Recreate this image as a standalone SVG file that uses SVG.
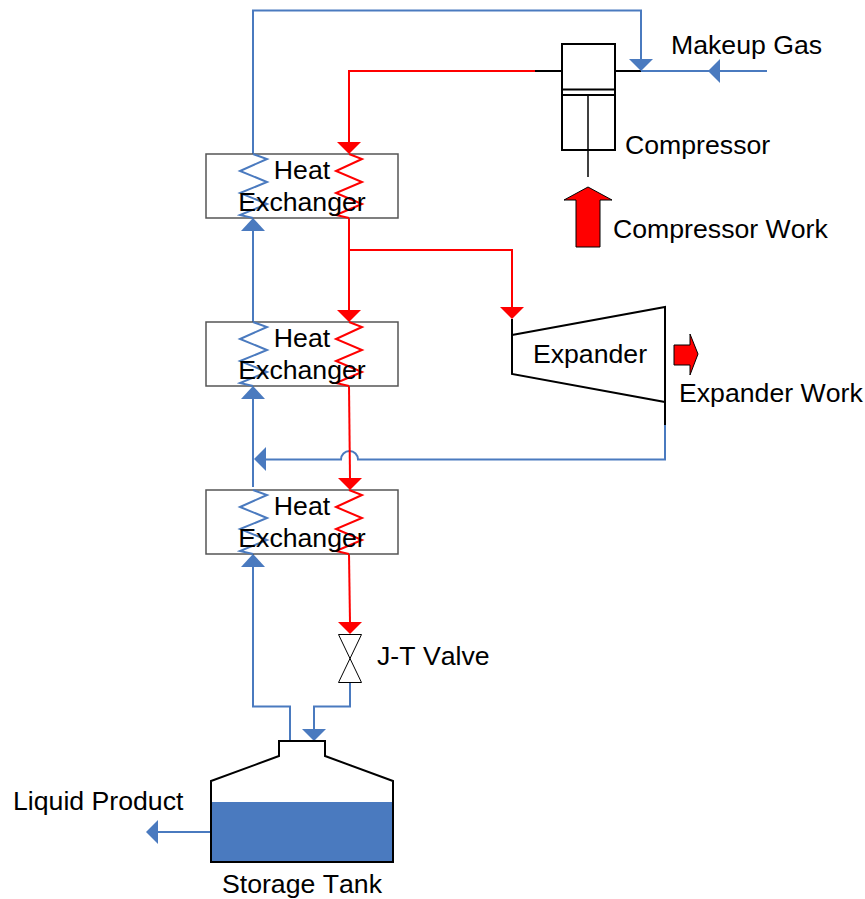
<svg xmlns="http://www.w3.org/2000/svg" width="865" height="899" viewBox="0 0 865 899">
<style>
text{font-family:"Liberation Sans",Arial,sans-serif;font-size:26.67px;fill:#000;font-kerning:none}
.m{text-anchor:middle}
.box{fill:#fff;stroke:#555;stroke-width:1.5}
.k{fill:none;stroke:#000;stroke-width:2}
.kt{fill:none;stroke:#000;stroke-width:1.5}
.b{fill:none;stroke:#4a7abf;stroke-width:2}
.r{fill:none;stroke:#f00;stroke-width:2}
.bh{fill:#4a7abf}
.rh{fill:#f00}
.w{fill:#f00;stroke:#000;stroke-width:1}
</style>
<defs>
<g id="hx">
<rect class="box" x="206" y="0" width="192" height="64"/>
<path class="b" d="M253 0L267 5L240 17L267 28L240 39L267 50L240 61L253 64"/>
<path class="r" d="M349 0L362 5L336 17L362 28L336 39L362 50L336 61L349 64"/>
<text class="m" x="302" y="25">Heat</text>
<text class="m" x="302" y="57">Exchanger</text>
</g>
</defs>
<g id="connectors">
<path class="b" d="M253 154V10.500H641V60"/>
<path class="b" d="M641 71H767"/>
<path class="k" d="M535 71H562M615 71H641"/>
<path class="r" d="M535 71H349V143"/>
<path class="r" d="M349 218V311M349 250H512V308"/>
<path class="k" d="M512 319V336"/>
<path class="k" d="M665 402V425"/>
<path class="b" d="M665 425V459.500H358A8.500 8.500 0 0 0 341 459.500H265"/>
<path class="r" d="M349 386L350 479"/>
<path class="r" d="M349 554L350 623"/>
<path class="b" d="M253 322V230M253 487L253 398M253 554V706.500H290V741"/>
<path class="b" d="M350 682V706.500H314V730"/>
<path class="b" d="M211 832H157"/>
<polygon class="bh" points="708,71 720,59 720,83"/>
<polygon class="bh" points="641,71 629,59 653,59"/>
<polygon class="rh" points="349,154 337,142 361,142"/>
<polygon class="rh" points="349,322 337,310 361,310"/>
<polygon class="rh" points="512,319 500,307 524,307"/>
<polygon class="rh" points="350,490 338,478 362,478"/>
<polygon class="rh" points="350,634 338,622 362,622"/>
<polygon class="bh" points="253,218 241,231 265,231"/>
<polygon class="bh" points="253,386 241,399 265,399"/>
<polygon class="bh" points="253,554 241,567 265,567"/>
<polygon class="bh" points="254,459 266,447 266,471"/>
<polygon class="bh" points="314,741 302,729 326,729"/>
<polygon class="bh" points="146,832 158,820 158,844"/>
</g>
<g id="heat-exchanger-1" transform="translate(0 154)"><use href="#hx"/></g>
<g id="heat-exchanger-2" transform="translate(0 322)"><use href="#hx"/></g>
<g id="heat-exchanger-3" transform="translate(0 490)"><use href="#hx"/></g>
<g id="compressor">
<rect class="k" x="562" y="44" width="53" height="106"/>
<path class="k" d="M562 89.500H615M562 95H615"/>
<path class="kt" d="M588 95V177"/>
<text x="625" y="154">Compressor</text>
</g>
<g id="compressor-work">
<polygon class="w" points="588,187 564,200 576,200 576,247 600,247 600,200 612,200"/>
<text x="613" y="238">Compressor Work</text>
</g>
<text id="makeup-gas" x="671" y="54">Makeup Gas</text>
<g id="expander">
<polygon class="k" points="512,335 665,307 665,402 512,374"/>
<text class="m" x="590" y="363">Expander</text>
</g>
<g id="expander-work">
<polygon class="w" points="674,345 690,345 690,334 698,354 690,375 690,365 674,365"/>
<text x="679" y="402">Expander Work</text>
</g>
<g id="jt-valve">
<polygon fill="#fff" stroke="#000" points="338.500,634.500 361.500,634.500 338.500,682.500 361.500,682.500"/>
<text x="377" y="665">J-T Valve</text>
</g>
<g id="storage-tank">
<rect x="211" y="802" width="182" height="60" fill="#4a7abf"/>
<path class="k" d="M279 756V741H325V756L393 781V862H211V781Z"/>
<text class="m" x="302" y="893">Storage Tank</text>
</g>
<text id="liquid-product" x="13" y="810">Liquid Product</text>
</svg>
